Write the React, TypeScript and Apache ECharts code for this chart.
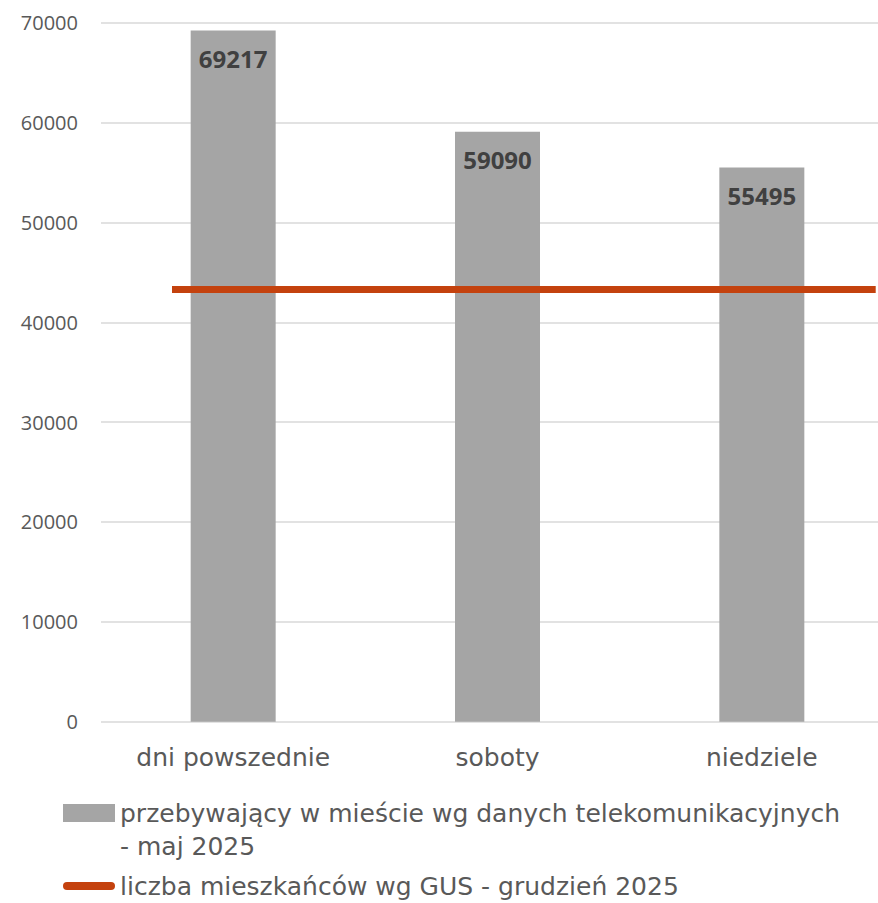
import React, { useEffect, useRef } from "react";
import * as echarts from "echarts";

const categories = ["dni powszednie", "soboty", "niedziele"];
const telecomValues = [69217, 59090, 55495];
const residentsValue = 43270;
const yTicks = { min: 0, max: 70000, interval: 10000 };
const barSeriesName = "przebywający w mieście wg danych telekomunikacyjnych - maj 2025";
const barLegendLines = ["przebywający w mieście wg danych telekomunikacyjnych", "- maj 2025"];
const lineSeriesName = "liczba mieszkańców wg GUS - grudzień 2025";

const TEXT = "#595959";
const GOTHIC = "DejaVu Sans";

export default function App() {
  const ref = useRef<HTMLDivElement>(null);
  useEffect(() => {
    if (!ref.current) return;
    const chart = echarts.init(ref.current, null, { renderer: "svg" });
    chart.setOption({
      animation: false,
      backgroundColor: "#ffffff",
      grid: {
        left: 101,
        top: 22.7,
        width: 793,
        height: 699,
        containLabel: false,
        outerBoundsMode: "none",
      },
      xAxis: [
        {
          type: "category",
          data: categories,
          axisLine: { show: false },
          axisTick: { show: false },
          axisLabel: { color: TEXT, fontFamily: GOTHIC, fontSize: 25, margin: 23 },
        },
        { type: "value", min: -0.1009, max: 1.026, show: false },
      ],
      yAxis: {
        type: "value",
        min: yTicks.min,
        max: yTicks.max,
        interval: yTicks.interval,
        axisLine: { show: false },
        axisTick: { show: false },
        splitLine: { lineStyle: { color: "#D9D9D9", width: 1.5 } },
        axisLabel: {
          color: TEXT,
          fontFamily: "Open Sans",
          fontSize: 20,
          margin: 23,
          formatter: (v: number) => String(v),
        },
      },
      legend: {
        orient: "vertical",
        left: 58,
        top: 758.5,
        itemWidth: 52,
        itemHeight: 18,
        itemGap: 7,
        textStyle: { color: TEXT, fontFamily: GOTHIC, fontSize: 25, lineHeight: 33 },
        formatter: (name: string) =>
          name === barSeriesName ? "\n" + barLegendLines.join("\n") : name,
        data: [
          { name: barSeriesName, icon: "rect" },
          { name: lineSeriesName, icon: "path://M4,0 H48 A4,4 0 0 1 48,8 H4 A4,4 0 0 1 4,0 Z" },
        ],
      },
      series: [
        {
          name: barSeriesName,
          type: "bar",
          data: telecomValues,
          barWidth: 85,
          itemStyle: { color: "#A5A5A5" },
          label: {
            show: true,
            position: "insideTop",
            distance: 16,
            color: "#404040",
            fontFamily: "Open Sans",
            fontWeight: "bold",
            fontSize: 24,
          },
        },
        {
          name: lineSeriesName,
          type: "line",
          xAxisIndex: 1,
          data: [
            [0, residentsValue],
            [1, residentsValue],
          ],
          color: "#C4420E",
          symbol: "none",
          lineStyle: { color: "#C4420E", width: 7 },
          z: 5,
        },
      ],
    });
    return () => chart.dispose();
  }, []);
  return (
    <div
      ref={ref}
      style={{ position: "fixed", left: 0, top: 0, width: 878, height: 903 }}
    />
  );
}
